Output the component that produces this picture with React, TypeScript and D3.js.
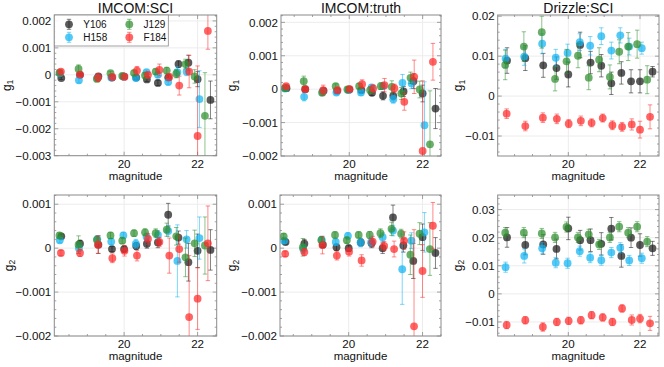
import React from 'react';
import * as d3 from 'd3';

// ---------- data ----------
const BANDS = ['Y106', 'H158', 'J129', 'F184'];
const COLORS = ['#1a1a1a', '#12b4f2', '#2f8f2f', '#ff2a2a'];

// magnitude bin centres per band
const MAG_Y106 = [18.29, 18.8, 19.3, 19.67, 20.0, 20.33, 20.62, 20.92, 21.2, 21.48, 21.75, 22.0, 22.35];
const MAG_H158 = [18.25, 18.77, 19.27, 19.65, 19.98, 20.32, 20.61, 20.92, 21.2, 21.45, 21.7, 22.05];
const MAG_J129 = [18.24, 18.76, 19.26, 19.63, 19.95, 20.27, 20.57, 20.86, 21.16, 21.42, 21.67, 21.92, 22.2];
const MAG_F184 = [18.28, 18.8, 19.29, 19.68, 20.01, 20.35, 20.65, 20.96, 21.23, 21.5, 21.77, 22.0, 22.28];
const MAGS = [MAG_Y106, MAG_H158, MAG_J129, MAG_F184];

// [value, error] pairs
const sciG1_Y106 = [[-0.00012,0.00005],[0,0.00006],[-0.00006,0.00006],[-0.0001,0.00006],[-0.00007,0.00006],[-0.0001,0.00007],[-0.00017,0.00008],[-0.0003,0.0001],[-0.0001,0.0001],[0.0004,0.00012],[0.00045,0.00028],[-0.00016,0.00028],[-0.00093,0.0007]];
const sciG1_H158 = [[0.00006,0.00006],[-0.0002,0.0001],[-0.00012,0.00007],[-0.0001,0.00007],[-0.00006,0.00007],[-0.00012,0.00008],[0.0001,0.00008],[0.0,0.0001],[-0.00027,0.0001],[0.0001,0.0002],[0.00012,0.00015],[-0.0009,0.00105]];
const sciG1_J129 = [[0.00008,0.00006],[0.00022,0.00015],[-0.00015,0.00008],[0.00006,0.00007],[-0.00004,0.00007],[0.00007,0.00008],[-0.00002,0.0001],[0.00012,0.0001],[0.00016,0.00012],[0.00004,0.00015],[0.0004,0.00018],[-0.00006,0.00025],[-0.00152,0.0016]];
const sciG1_F184 = [[0.00012,0.00006],[0.00001,0.00007],[-0.0001,0.00015],[-0.00008,0.00007],[-0.00007,0.00007],[0.00016,0.00015],[0.0,0.0001],[0.00018,0.00022],[-0.00008,0.00012],[-0.0004,0.00035],[0.00012,0.0006],[-0.00227,0.0026],[0.00163,0.00068]];

const truthG1_Y106 = [[0.00003,0.00005],[0,0.00006],[-0.00005,0.00006],[-0.00005,0.00006],[-0.00001,0.00006],[-0.00003,0.00007],[-0.00011,0.00008],[-0.0002,0.00012],[-0.0002,0.00012],[-0.00007,0.00015],[0.00024,0.00022],[-0.00013,0.00025],[-0.00058,0.0006]];
const truthG1_H158 = [[0.00002,0.00006],[-0.00023,0.00012],[-0.00008,0.00007],[-0.0001,0.00007],[-0.00003,0.00007],[-0.0001,0.00008],[0.00005,0.00008],[0.00009,0.0001],[-0.0003,0.00012],[0.00019,0.00025],[0.00017,0.00015],[-0.00108,0.0013]];
const truthG1_J129 = [[0.00003,0.00006],[0.00024,0.00015],[-0.00011,0.00008],[0.00009,0.00007],[-0.00001,0.00007],[0.00009,0.00008],[-0.00003,0.0001],[0.00009,0.0001],[0.00007,0.00018],[-0.00013,0.00018],[0.00034,0.00017],[-0.00001,0.00025],[-0.00165,0.0016]];
const truthG1_F184 = [[0.00009,0.00006],[0,0.00007],[-0.00003,0.00015],[-0.00003,0.00007],[0,0.00007],[0.00015,0.00013],[0.00002,0.0001],[0.00012,0.0002],[0.00003,0.00012],[-0.00038,0.00025],[0.00037,0.0005],[-0.00185,0.0021],[0.00082,0.00055]];

const drzG1_Y106 = [[0.0089,0.0032],[0.0095,0.0031],[0.0077,0.003],[0.007,0.0028],[0.0054,0.0031],[0.0128,0.0032],[0.0084,0.0028],[0.0076,0.0028],[0.0032,0.0028],[0.0058,0.0028],[0.0037,0.0029],[0.0037,0.0029],[0.0061,0.0013]];
const drzG1_H158 = [[0.0094,0.0023],[0.0099,0.0022],[0.0131,0.0025],[0.0096,0.0021],[0.0108,0.0022],[0.0135,0.0021],[0.0126,0.0023],[0.015,0.0021],[0.0114,0.0021],[0.0152,0.0019],[0.0124,0.0021],[0.012,0.0015]];
const drzG1_J129 = [[0.0078,0.0037],[0.0124,0.0037],[0.016,0.004],[0.0043,0.003],[0.0087,0.003],[0.0101,0.003],[0.0046,0.003],[0.0091,0.003],[0.0048,0.003],[0.0111,0.003],[0.0124,0.0035],[0.013,0.0035],[0.0041,0.0035]];
const drzG1_F184 = [[-0.0044,0.0012],[-0.0075,0.0012],[-0.0054,0.0012],[-0.0057,0.0012],[-0.0069,0.001],[-0.0062,0.0012],[-0.0067,0.001],[-0.0055,0.001],[-0.0073,0.0011],[-0.0077,0.0011],[-0.0071,0.0014],[-0.0084,0.0021],[-0.0052,0.003]];

const sciG2_Y106 = [[0.00027,0.00005],[0.0001,0.00008],[0.00008,0.0002],[-0.00002,0.00006],[-0.00002,0.00007],[0.00005,0.00008],[0.0001,0.0001],[0.00013,0.00012],[0.00076,0.00026],[0.00024,0.00015],[-0.00032,0.00043],[-0.00006,0.00038],[-0.00004,0.00046]];
const sciG2_H158 = [[0.00018,0.00006],[0,0.00012],[0.0002,0.00008],[0.00015,0.00007],[0.00029,0.00007],[0.0001,0.0001],[0.00026,0.00008],[0.0003,0.0001],[0.00039,0.00012],[-0.00029,0.00082],[0.0002,0.0002],[0.00023,0.00048]];
const sciG2_J129 = [[0.00029,0.00006],[0.00008,0.0002],[0.00019,0.00008],[0.00029,0.00007],[0.00017,0.00007],[0.00034,0.00007],[0.00036,0.00008],[0.00034,0.0001],[0.00042,0.00015],[0.00027,0.0002],[-0.00021,0.00044],[0.00011,0.0003],[0.00006,0.00065]];
const sciG2_F184 = [[-0.00011,0.00006],[-0.00011,0.00008],[0.00008,0.0002],[-0.00023,0.0001],[-0.00006,0.00012],[-0.00017,0.00012],[0.00021,0.00012],[0.00014,0.0001],[-0.00017,0.0004],[-0.00002,0.0003],[-0.00157,0.0014],[-0.00115,0.0007],[0.00011,0.00085]];

const truthG2_Y106 = [[0.00014,0.00005],[0.0001,0.0001],[0.00008,0.00006],[0.00002,0.00007],[0,0.00007],[0.00013,0.00008],[0.00011,0.0001],[0,0.00012],[0.0007,0.00028],[0.00006,0.00015],[-0.00029,0.0004],[0.00025,0.0003],[-0.00011,0.00035]];
const truthG2_H158 = [[0.00017,0.00006],[-0.00002,0.0001],[0.00019,0.00008],[0.00014,0.00007],[0.00028,0.00007],[0.00013,0.0001],[0.00014,0.0001],[0.00025,0.0001],[0.0004,0.00012],[-0.00048,0.0008],[0.00017,0.00018],[0.00036,0.00045]];
const truthG2_J129 = [[0.00027,0.00006],[0.00002,0.0002],[0.00018,0.00008],[0.0003,0.00007],[0.00018,0.00007],[0.0003,0.00007],[0.0003,0.00008],[0.00034,0.0001],[0.00044,0.00015],[0.00033,0.0001],[-0.00015,0.00045],[0.00033,0.00025],[-0.00002,0.0006]];
const truthG2_F184 = [[-0.00013,0.00006],[-0.00009,0.00008],[0.00007,0.0002],[-0.00017,0.0001],[-0.00008,0.0001],[-0.00028,0.00013],[0.00015,0.00012],[0.00005,0.0001],[-0.00002,0.00018],[0.00017,0.0002],[-0.00178,0.0022],[-0.00052,0.0006],[0.00051,0.00053]];

const drzG2_Y106 = [[0.0201,0.0035],[0.0174,0.0035],[0.0176,0.0035],[0.016,0.0035],[0.0233,0.004],[0.0191,0.0035],[0.0191,0.004],[0.0178,0.004],[0.0232,0.004],[0.0135,0.004],[0.02,0.0035],[0.0174,0.004],[0.0162,0.0025]];
const drzG2_H158 = [[0.0095,0.0018],[0.0135,0.0025],[0.0162,0.002],[0.0111,0.0018],[0.0109,0.0018],[0.0152,0.0018],[0.0129,0.0018],[0.012,0.0018],[0.0147,0.0018],[0.0164,0.0018],[0.0119,0.0018],[0.0127,0.0018]];
const drzG2_J129 = [[0.0218,0.0018],[0.0218,0.0018],[0.0215,0.0018],[0.0201,0.0018],[0.0238,0.0018],[0.0201,0.0018],[0.0212,0.0018],[0.0176,0.0018],[0.0201,0.0018],[0.0239,0.0018],[0.0218,0.0018],[0.0239,0.0018],[0.0186,0.0018]];
const drzG2_F184 = [[-0.0111,0.0013],[-0.0094,0.0013],[-0.0118,0.0015],[-0.01,0.0013],[-0.0096,0.0013],[-0.0094,0.0013],[-0.0076,0.0013],[-0.0084,0.0013],[-0.01,0.0013],[-0.0052,0.0013],[-0.0093,0.0018],[-0.0088,0.0015],[-0.0105,0.0025]];

const TITLES = ['IMCOM:SCI', 'IMCOM:truth', 'Drizzle:SCI'];
const X_TICKS = [20, 22];
const Y_TICKS_SCI_G1 = [-0.003, -0.002, -0.001, 0, 0.001, 0.002];
const Y_TICKS_TRUTH_G1 = [-0.002, -0.001, 0, 0.001, 0.002];
const Y_TICKS_DRZ_G1 = [-0.01, 0, 0.01, 0.02];
const Y_TICKS_G2 = [-0.002, -0.001, 0, 0.001];
const Y_TICKS_DRZ_G2 = [-0.01, 0, 0.01, 0.02, 0.03];

// ---------- layout ----------
const FONT = '"Liberation Sans", Arial, Helvetica, sans-serif';
const SPINE = '#8a8a8a';
const GRID = '#ececec';

type Panel = {
  key: string; title?: string; sub: string;
  box: [number, number, number, number];
  xdom: [number, number]; ydom: [number, number];
  yticks: number[]; yminor: number; ylabX: number;
  data: number[][][]; legend?: boolean;
};

const PANELS: Panel[] = [
  { key: 'p1', title: TITLES[0], sub: '1', box: [54.3, 15, 216.7, 155.7], xdom: [18.1, 22.52], ydom: [-0.003, 0.00222], yticks: Y_TICKS_SCI_G1, yminor: 0.0002, ylabX: 10.5, data: [sciG1_Y106, sciG1_H158, sciG1_J129, sciG1_F184], legend: true },
  { key: 'p2', title: TITLES[1], sub: '1', box: [281, 15, 441, 156], xdom: [18.14, 22.5], ydom: [-0.002, 0.00222], yticks: Y_TICKS_TRUTH_G1, yminor: 0.0002, ylabX: 236, data: [truthG1_Y106, truthG1_H158, truthG1_J129, truthG1_F184] },
  { key: 'p3', title: TITLES[2], sub: '1', box: [497.7, 15, 659, 156], xdom: [18.03, 22.53], ydom: [-0.015, 0.0203], yticks: Y_TICKS_DRZ_G1, yminor: 0.002, ylabX: 462, data: [drzG1_Y106, drzG1_H158, drzG1_J129, drzG1_F184] },
  { key: 'p4', sub: '2', box: [54.3, 195, 216.7, 336], xdom: [18.1, 22.52], ydom: [-0.002, 0.00121], yticks: Y_TICKS_G2, yminor: 0.0002, ylabX: 12.5, data: [sciG2_Y106, sciG2_H158, sciG2_J129, sciG2_F184] },
  { key: 'p5', sub: '2', box: [280, 195, 441, 336], xdom: [18.14, 22.5], ydom: [-0.002, 0.00121], yticks: Y_TICKS_G2, yminor: 0.0002, ylabX: 236, data: [truthG2_Y106, truthG2_H158, truthG2_J129, truthG2_F184] },
  { key: 'p6', sub: '2', box: [497.7, 195, 659, 336], xdom: [18.03, 22.53], ydom: [-0.015, 0.0352], yticks: Y_TICKS_DRZ_G2, yminor: 0.002, ylabX: 461.5, data: [drzG2_Y106, drzG2_H158, drzG2_J129, drzG2_F184] },
];

const fmt = (v: number) => (Math.abs(v) < 1e-12 ? '0' : String(+v.toPrecision(6)).replace('-', '\u2212'));

function minorTicks(dom: [number, number], step: number) {
  const out: number[] = [];
  const start = Math.ceil(dom[0] / step - 1e-9);
  const end = Math.floor(dom[1] / step + 1e-9);
  for (let i = start; i <= end; i++) out.push(+(i * step).toPrecision(10));
  return out;
}

function ErrPoint({ x, y, y0, y1, color }: { x: number; y: number; y0: number; y1: number; color: string }) {
  const cap = 2.2;
  return (
    <g>
      <g stroke={color} strokeOpacity={0.55} strokeWidth={1}>
        <line x1={x} x2={x} y1={y0} y2={y1} />
        <line x1={x - cap} x2={x + cap} y1={y0} y2={y0} />
        <line x1={x - cap} x2={x + cap} y1={y1} y2={y1} />
      </g>
      <circle cx={x} cy={y} r={3.9} fill={color} fillOpacity={0.72} />
    </g>
  );
}

function PanelView({ p }: { p: Panel }) {
  const [l, t, r, b] = p.box;
  const x = d3.scaleLinear().domain(p.xdom).range([l, r]);
  const y = d3.scaleLinear().domain(p.ydom).range([b, t]);
  const xMinor = minorTicks(p.xdom, 0.5);
  const yMinor = minorTicks(p.ydom, p.yminor);
  const clipId = 'clip-' + p.key;
  const cx = (l + r) / 2;
  const cy = (t + b) / 2;
  return (
    <g>
      <defs>
        <clipPath id={clipId}>
          <rect x={l} y={t} width={r - l} height={b - t} />
        </clipPath>
      </defs>
      {/* grid */}
      <g stroke={GRID} strokeWidth={1}>
        {X_TICKS.map((v) => <line key={'gx' + v} x1={x(v)} x2={x(v)} y1={t} y2={b} />)}
        {p.yticks.map((v) => <line key={'gy' + v} x1={l} x2={r} y1={y(v)} y2={y(v)} />)}
      </g>
      {/* ticks (inside, all sides) */}
      <g stroke={SPINE} strokeWidth={0.8}>
        {xMinor.map((v) => {
          const maj = X_TICKS.includes(v);
          const len = maj ? 4 : 2;
          return (
            <g key={'tx' + v}>
              <line x1={x(v)} x2={x(v)} y1={b} y2={b - len} />
              <line x1={x(v)} x2={x(v)} y1={t} y2={t + len} />
            </g>
          );
        })}
        {yMinor.map((v) => {
          const maj = p.yticks.some((m) => Math.abs(m - v) < 1e-9);
          const len = maj ? 4 : 2;
          return (
            <g key={'ty' + v}>
              <line x1={l} x2={l + len} y1={y(v)} y2={y(v)} />
              <line x1={r} x2={r - len} y1={y(v)} y2={y(v)} />
            </g>
          );
        })}
      </g>
      {/* data */}
      <g clipPath={`url(#${clipId})`}>
        {p.data.map((series, si) => (
          <g key={BANDS[si]}>
            {series.map(([v, e], i) => (
              <ErrPoint key={i} x={x(MAGS[si][i])} y={y(v)} y0={y(v - e)} y1={y(v + e)} color={COLORS[si]} />
            ))}
          </g>
        ))}
      </g>
      {/* frame */}
      <rect x={l} y={t} width={r - l} height={b - t} fill="none" stroke={SPINE} strokeWidth={1} />
      {/* tick labels */}
      <g fontFamily={FONT} fontSize={11.6} fill="#111">
        {X_TICKS.map((v) => (
          <text key={'lx' + v} x={x(v)} y={b + 12.4} textAnchor="middle">{fmt(v)}</text>
        ))}
        {p.yticks.map((v) => (
          <text key={'ly' + v} x={l - 3} y={y(v)} dy="0.36em" textAnchor="end">{fmt(v)}</text>
        ))}
      </g>
      <text x={cx} y={b + 24.3} textAnchor="middle" fontFamily={FONT} fontSize={11.5} fill="#111">magnitude</text>
      <text transform={`translate(${p.ylabX},${cy}) rotate(-90)`} textAnchor="middle" fontFamily={FONT} fontSize={12} fill="#111">
        g<tspan fontSize={8.5} dy={2.5}>{p.sub}</tspan>
      </text>
      {p.title && (
        <text x={cx} y={13.3} textAnchor="middle" fontFamily={FONT} fontSize={14} fill="#111">{p.title}</text>
      )}
      {p.legend && (
        <g>
          <rect x={l} y={t} width={114} height={31} fill="#fff" fillOpacity={0.9} stroke={SPINE} strokeWidth={0.8} />
          {BANDS.map((name, i) => {
            const col = Math.floor(i / 2);
            const row = i % 2;
            const mx = l + 14.7 + col * 60.3;
            const my = t + 9.3 + row * 13;
            return (
              <g key={name}>
                <ErrPoint x={mx} y={my} y0={my + 5} y1={my - 5} color={COLORS[i]} />
                <text x={mx + 14.3} y={my + 3.6} fontFamily={FONT} fontSize={10} fill="#111">{name}</text>
              </g>
            );
          })}
        </g>
      )}
    </g>
  );
}

export default function App() {
  return (
    <svg width={664} height={367} style={{ position: 'absolute', left: 0, top: 0, background: '#fff' }}>
      <rect x={0} y={0} width={664} height={367} fill="#fff" />
      {PANELS.map((p) => <PanelView key={p.key} p={p} />)}
    </svg>
  );
}
